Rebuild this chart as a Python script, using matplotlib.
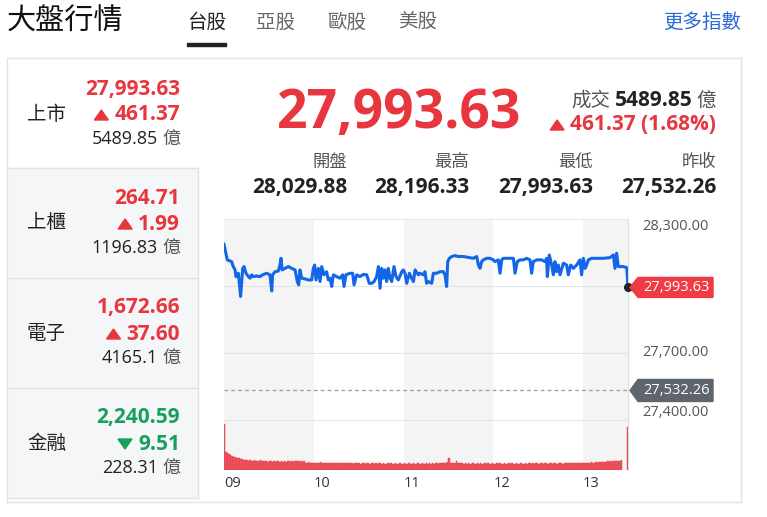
import numpy as np
import matplotlib.pyplot as plt
from matplotlib.lines import Line2D
from matplotlib.patches import Rectangle, Polygon

plt.rcParams['font.family'] = ['Open Sans', 'Noto Sans CJK TC', 'DejaVu Sans']

# ---- data ----
tabs = ['台股', '亞股', '歐股', '美股']
names = ['上市', '上櫃', '電子', '金融']
index_values = [27993.63, 264.71, 1672.66, 2240.59]
index_changes = [461.37, 1.99, 37.60, -9.51]
turnover = [5489.85, 1196.83, 4165.1, 228.31]   # 億

last_price = 27993.63
prev_close = 27532.26
open_price = 28029.88
high_price = 28196.33
low_price = 27993.63
change = 461.37

# intraday line: minutes after 09:00, index level
line_min = [0, 2.2, 5.1, 6.2, 7.4, 8.0, 9.6, 11.1, 12.5, 13.4, 14.7, 16.3, 17.4, 18.5, 19.6,
            22, 24, 25.8, 28.5, 30.7, 31.9, 32.5, 34.1, 36.3, 37.4, 38.1, 38.8, 40.8, 43,
            45.2, 47.5, 49, 49.9, 50.8, 51.9, 54.1, 56.4, 58.6, 59.7, 60.6, 61.5, 63.1, 64.2,
            65.3, 66.8, 68.6, 69.7, 70.9, 72, 73.1, 75.3, 77.5, 79.3, 80.2, 81.5, 84.2, 86,
            86.9, 88.7, 90.9, 93.1, 95.4, 97.1, 98.7, 100.3, 102, 103.2, 104.3, 105.4, 106.5,
            107.6, 108.7, 109.8, 111, 112.1, 113.6, 115, 116.5, 118.8, 119.9, 121, 122.1,
            123.9, 125.4, 126.6, 127.7, 129.9, 131, 133.2, 134.3, 135.4, 136.6, 138.8, 139.9,
            142.1, 144.4, 146.6, 147.7, 148.8, 149.5, 150.6, 152.2, 154.4, 156.6, 160, 164.4,
            166.6, 168.9, 170, 171.1, 172.2, 173.3, 175.5, 177.8, 180, 181.1, 183.3, 184.5,
            185.6, 186.7, 188.9, 191.1, 193.4, 194.5, 196, 197.8, 200, 202.3, 204.5, 205.6,
            206.7, 209, 212.3, 214.5, 215.6, 216.1, 217.4, 219, 220.1, 221.2, 222.3, 223.4,
            224.6, 226.8, 229, 230.1, 231.7, 233.5, 235.7, 237.9, 239, 240.2, 241.3, 242.4,
            243.5, 245.7, 249, 253.5, 258, 260.2, 261.3, 262.4, 263.5, 264.7, 266.9, 269.2, 270]
line_val = [28187, 28117, 28109, 28087, 28072, 28042, 28057, 27953, 28079, 28087, 28057, 28042,
            28035, 28050, 28042, 28045, 28042, 28050, 28057, 28050, 27978, 28050, 28064, 28067,
            28094, 28124, 28072, 28079, 28087, 28079, 28072, 28020, 28005, 28072, 28035, 28032,
            28027, 28027, 28079, 28094, 28027, 28079, 28020, 28087, 28050, 28064, 28027, 28035,
            27998, 28050, 28042, 28035, 28050, 27998, 28050, 28057, 28057, 28005, 28050, 28042,
            28052, 28050, 28012, 28012, 28020, 28042, 28087, 27990, 28079, 28035, 28072, 28020,
            28079, 28035, 28020, 28087, 28042, 28027, 28064, 28072, 28057, 28012, 28057, 28035,
            28020, 28072, 28050, 28057, 28050, 28064, 28012, 28020, 28012, 28057, 28057, 28064,
            28064, 28050, 27998, 28109, 28124, 28132, 28136, 28132, 28132, 28127, 28124, 28132,
            28094, 28079, 28109, 28117, 28124, 28124, 28117, 28109, 28117, 28057, 28117, 28124,
            28124, 28124, 28124, 28057, 28109, 28117, 28117, 28124, 28117, 28057, 28109, 28117,
            28117, 28109, 28124, 28042, 28139, 28094, 28050, 28109, 28064, 28094, 28050, 28102,
            28094, 28050, 28094, 28079, 28094, 28117, 28050, 28124, 28079, 28094, 28117, 28124,
            28124, 28124, 28127, 28139, 28079, 28147, 28087, 28087, 28087, 28082, 27993.63]

# per-minute turnover (億), 09:00-13:25, then the 13:30 closing auction
vol_min = list(range(266)) + [269.2]
vol_val = [114, 45, 42, 40, 37, 35, 33, 32, 30, 29, 29, 27, 26, 25, 25, 24, 23, 24, 23, 23,
           24, 23, 22, 23, 24, 23, 22, 21, 21, 20, 21, 22, 20, 21, 20, 21, 22, 20, 21, 20,
           21, 20, 22, 21, 20, 21, 20, 21, 22, 21, 20, 21, 20, 21, 18, 18, 19, 18, 18, 17,
           18, 18, 17, 18, 19, 18, 17, 18, 18, 17, 18, 17, 18, 18, 17, 18, 17, 17, 18, 17,
           17, 18, 17, 17, 18, 17, 16, 17, 17, 18, 17, 16, 17, 17, 16, 17, 17, 16, 17, 17,
           16, 17, 16, 17, 17, 16, 17, 16, 16, 17, 16, 17, 16, 16, 17, 16, 16, 17, 16, 16,
           17, 16, 16, 17, 16, 16, 17, 16, 16, 17, 16, 16, 17, 16, 16, 17, 16, 17, 16, 17,
           16, 17, 17, 16, 17, 17, 18, 17, 18, 19, 29, 18, 17, 17, 18, 23, 17, 18, 17, 17,
           16, 17, 16, 17, 16, 16, 17, 16, 16, 17, 16, 17, 16, 16, 17, 16, 17, 16, 16, 17,
           16, 16, 17, 16, 17, 16, 16, 17, 16, 16, 17, 16, 17, 16, 16, 17, 16, 16, 17, 16,
           16, 17, 16, 17, 17, 16, 17, 16, 17, 17, 16, 17, 17, 16, 17, 17, 16, 17, 17, 16,
           17, 17, 16, 17, 17, 17, 16, 17, 18, 17, 17, 18, 17, 17, 18, 17, 18, 17, 18, 18,
           17, 18, 18, 17, 18, 19, 18, 18, 19, 18, 19, 20, 19, 20, 19, 20, 21, 20, 21, 20,
           21, 22, 21, 23, 22, 24, 106]

hour_labels = ['09', '10', '11', '12', '13']
price_ticks = [28300, 27700, 27400]
grid_levels = [28000, 27700, 27400]

RED = '#e8363f'
GREEN = '#17a05d'
BLUE = '#1466e8'
DARK = '#222222'
GRAY = '#555555'
LINEC = '#e3e3e3'

W, H = 767, 517
fig = plt.figure(figsize=(W / 100, H / 100), dpi=100)
fig.patch.set_facecolor('white')


def fx(x):
    return x / W


def fy(y):
    return 1 - y / H


def hline(x0, x1, y, color=LINEC, lw=1):
    fig.add_artist(Line2D([fx(x0), fx(x1)], [fy(y), fy(y)], color=color, lw=lw,
                          transform=fig.transFigure))


def vline(x, y0, y1, color=LINEC, lw=1):
    fig.add_artist(Line2D([fx(x), fx(x)], [fy(y0), fy(y1)], color=color, lw=lw,
                          transform=fig.transFigure))


def tri(xc, yc, color, up=True, w=14, h=10):
    if up:
        pts = [(xc - w / 2, yc + h / 2), (xc + w / 2, yc + h / 2), (xc, yc - h / 2)]
    else:
        pts = [(xc - w / 2, yc - h / 2), (xc + w / 2, yc - h / 2), (xc, yc + h / 2)]
    fig.add_artist(Polygon([(fx(a), fy(b)) for a, b in pts], closed=True, color=color,
                           transform=fig.transFigure))


renderer = fig.canvas.get_renderer()


def row_right(xr, y, pieces):
    # lay out pieces right to left; piece = (text, kwargs, gap_left) or ('tri', color, up)
    x = xr
    for p in reversed(pieces):
        if p[0] == 'tri':
            _, color, up = p
            tri(x - 7, y, color, up)
            x -= 14
        else:
            s, kw, gap = p
            t = fig.text(fx(x), fy(y), s, ha='right', va='center', **kw)
            x -= t.get_window_extent(renderer).width + gap


# ---- header ----
fig.text(fx(7), fy(22), '大盤行情', ha='left', va='center', fontsize=21, color='#111111',
         family=['Noto Sans CJK TC'], weight='medium')
for i, (tab, x0) in enumerate(zip(tabs, [187, 256, 327, 398])):
    fig.text(fx(x0), fy(22), tab, ha='left', va='center', fontsize=14,
             color=DARK if i == 0 else '#666666', family=['Noto Sans CJK TC'])
fig.add_artist(Rectangle((fx(187), fy(46)), (226 - 187) / W, 3 / H, color=DARK,
                         transform=fig.transFigure))
fig.text(fx(741), fy(22), '更多指數', ha='right', va='center', fontsize=14, color='#2a6ad8',
         family=['Noto Sans CJK TC'])

# card frame
hline(7, 741, 58)
hline(7, 741, 502)
vline(7, 58, 502)
vline(741, 58, 502)

# ---- left panel ----
fig.add_artist(Rectangle((fx(8), fy(498)), (198 - 8) / W, (498 - 168) / H, color='#f5f6f8',
                         transform=fig.transFigure, zorder=0))
for yy in [168, 278, 388]:
    hline(8, 198, yy)
hline(8, 198, 498)
vline(198, 168, 498)

centers = [114, 223, 333, 443]
for name, val, chg, tv, yc in zip(names, index_values, index_changes, turnover, centers):
    col = RED if chg > 0 else GREEN
    fig.text(fx(27), fy(yc), name, ha='left', va='center', fontsize=14, color=DARK,
             family=['Noto Sans CJK TC'])
    fig.text(fx(180), fy(yc - 25), f'{val:,.2f}', ha='right', va='center', fontsize=15,
             color=col, weight='bold')
    row_right(180, yc + 1, [('tri', col, chg > 0),
                            (f'{abs(chg):.2f}', dict(fontsize=15, color=col, weight='bold'), 6)])
    row_right(180, yc + 25, [(f'{tv:g}', dict(fontsize=13, color=DARK), 0),
                             ('億', dict(fontsize=13, color=GRAY, family=['Noto Sans CJK TC']), 4)])

# ---- main header ----
fig.text(fx(399), fy(114), f'{last_price:,.2f}', ha='center', va='center', fontsize=38.5,
         color=RED, weight='bold')
row_right(716, 100, [('成交', dict(fontsize=14, color=GRAY, family=['Noto Sans CJK TC']), 0),
                     (f'{turnover[0]:g}', dict(fontsize=15, color=DARK, weight='bold'), 4),
                     ('億', dict(fontsize=14, color=GRAY, family=['Noto Sans CJK TC']), 4)])
pct = change / prev_close * 100
row_right(716, 125, [('tri', RED, True),
                     (f'{change:.2f} ({pct:.2f}%)', dict(fontsize=15, color=RED, weight='bold'), 6)])

stat_labels = ['開盤', '最高', '最低', '昨收']
stat_values = [open_price, high_price, low_price, prev_close]
for lab, v, xr in zip(stat_labels, stat_values, [347, 469, 593, 716]):
    fig.text(fx(xr), fy(162), lab, ha='right', va='center', fontsize=12.5, color=GRAY,
             family=['Noto Sans CJK TC'])
    fig.text(fx(xr), fy(188), f'{v:,.2f}', ha='right', va='center', fontsize=15, color=DARK,
             weight='bold')

# ---- chart ----
x0, x1, ytop, ybot = 224, 628, 219, 470
ax = fig.add_axes([fx(x0), fy(ybot), (x1 - x0) / W, (ybot - ytop) / H])
pts_per_px = 300 / 67
ax.set_xlim(0, 270)
ax.set_ylim(28300 - (ybot - ytop) * pts_per_px, 28300)
for a, b in [(0, 60), (120, 180), (240, 270)]:
    ax.axvspan(a, b, color='#f4f4f4', lw=0, zorder=0)
for g in grid_levels:
    ax.axhline(g, color='#e4e4e4', lw=0.8, zorder=1)
ax.axhline(prev_close, color='#9c9c9c', lw=0.9, ls=(0, (3, 2.5)), zorder=2)
ax.plot(line_min, line_val, color=BLUE, lw=2.2, zorder=3, solid_joinstyle='round')
ax.plot([line_min[-1]], [line_val[-1]], 'o', color='#222222', ms=5.5, zorder=5, clip_on=False)

for side in ['left', 'bottom']:
    ax.spines[side].set_visible(False)
ax.spines['top'].set_color('#e8e8e8')
ax.spines['right'].set_color('#dddddd')
ax.set_xticks([])
ax.set_yticks([])

yt = ax.get_yaxis_transform()
for v, va in zip(price_ticks, ['top', 'center', 'bottom']):
    ax.text(1.035, v, f'{v:,.2f}', transform=yt, ha='left', va=va, fontsize=10.5,
            color=GRAY)

xt = ax.get_xaxis_transform()
for i, lab in enumerate(hour_labels):
    ax.text(i * 60, -0.022, lab, transform=xt, ha='left', va='top', fontsize=10.5, color='#333333')


def tag(v, text, color, half):
    xa = lambda p: (p - x0) / (x1 - x0)
    poly = [(xa(630), v), (xa(638), v + half), (xa(713), v + half), (xa(713), v - half),
            (xa(638), v - half)]
    ax.add_patch(Polygon(poly, closed=True, color=color, transform=yt, clip_on=False,
                         zorder=6))
    ax.text(xa(676), v, text, transform=yt, ha='center', va='center', fontsize=10.5,
            color='white', zorder=7, clip_on=False)


tag(last_price, f'{last_price:,.2f}', '#ee3b44', 10 * pts_per_px)
tag(prev_close, f'{prev_close:,.2f}', '#5e656e', 11 * pts_per_px)

ax2 = ax.twinx()
ax2.set_ylim(0, (ybot - ytop) * 2.47)
ax2.bar(vol_min, vol_val, width=1.0, color='#f05a63', edgecolor='#e03c46', lw=0.3,
        align='edge')
for s in ax2.spines.values():
    s.set_visible(False)
ax2.set_yticks([])

fig.savefig('out.png', dpi=100)
